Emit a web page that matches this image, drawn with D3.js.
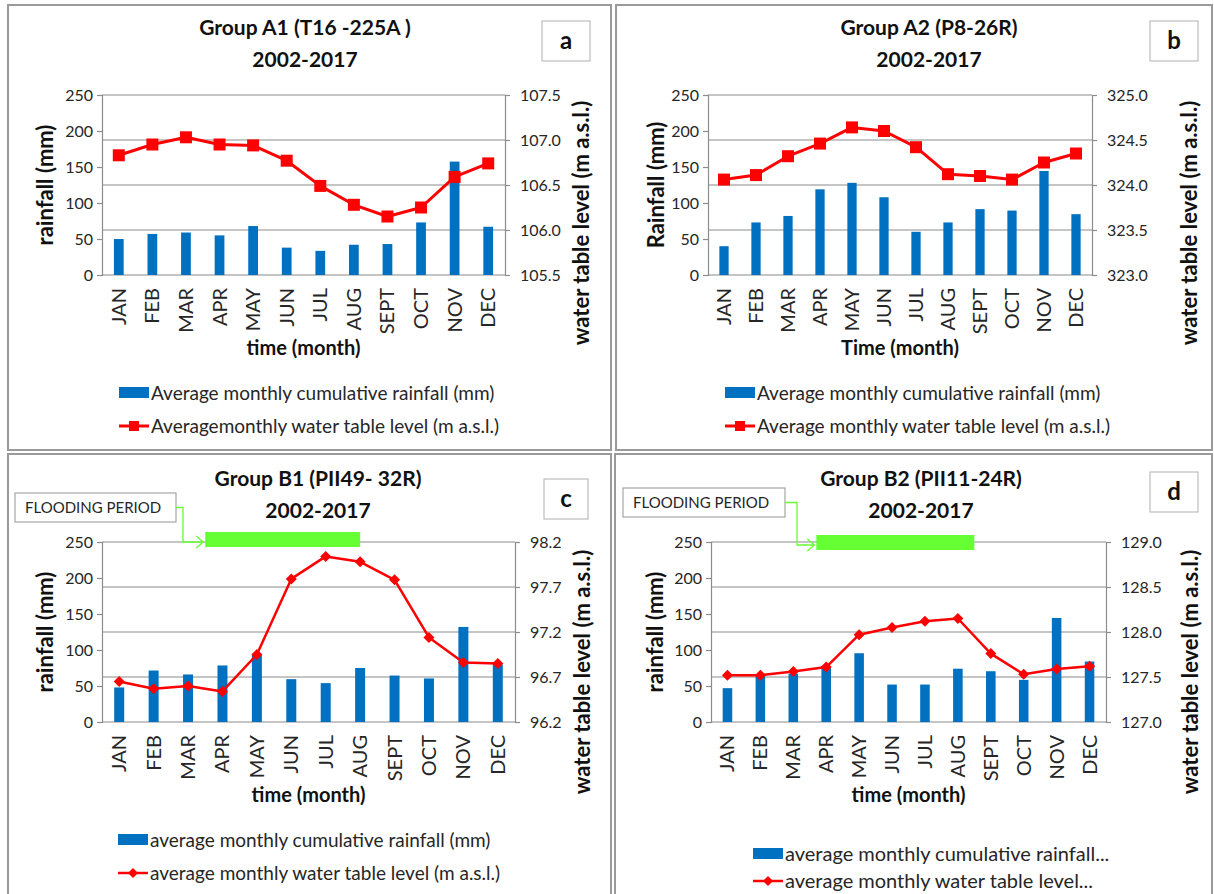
<!DOCTYPE html>
<html>
<head>
<meta charset="utf-8">
<script src="https://cdn.jsdelivr.net/npm/d3@7"></script>
<style>
  body { margin: 0; background: #fff; }
  svg { display: block; font-family: Lato, "Open Sans", sans-serif; }
</style>
</head>
<body>
<svg id="chart" width="1214" height="894"></svg>
<script>
// months on the category axis
var months = ["JAN", "FEB", "MAR", "APR", "MAY", "JUN", "JUL", "AUG", "SEPT", "OCT", "NOV", "DEC"];
var rainTicks = [0, 50, 100, 150, 200, 250];

// Group A1
var rainA = [50, 57, 59, 55, 68, 38, 33.5, 42, 43, 73, 157.5, 67];
var levelA = [106.83, 106.95, 107.03, 106.95, 106.94, 106.77, 106.49, 106.28, 106.15, 106.25, 106.59, 106.74];
var levelTicksA = [105.5, 106.0, 106.5, 107.0, 107.5];

// Group A2
var rainB = [40, 73, 82, 119, 128, 108, 60, 73, 91.5, 89.5, 144.5, 84.5];
var levelB = [324.06, 324.11, 324.32, 324.46, 324.64, 324.60, 324.42, 324.12, 324.10, 324.06, 324.25, 324.35];
var levelTicksB = [323.0, 323.5, 324.0, 324.5, 325.0];

// Group B1
var rainC = [48, 71.5, 66, 78.5, 93, 59.5, 54, 75, 64.5, 60.5, 132, 80];
var levelC = [96.65, 96.57, 96.60, 96.54, 96.95, 97.79, 98.04, 97.98, 97.78, 97.14, 96.86, 96.85];
var levelTicksC = [96.2, 96.7, 97.2, 97.7, 98.2];
var floodC = ["APR", "AUG"];

// Group B2
var rainD = [47, 65, 67, 75, 95.5, 52, 52, 74, 70.5, 58.5, 144.5, 84];
var levelD = [127.52, 127.52, 127.56, 127.61, 127.97, 128.05, 128.12, 128.15, 127.76, 127.53, 127.59, 127.62];
var levelTicksD = [127.0, 127.5, 128.0, 128.5, 129.0];
var floodD = ["APR", "AUG"];

var svg = d3.select("#chart");
var grey = "#8c8c8c", ink = "#262626", blue = "#0070c0", red = "#ff0000", green = "#66ff33";

var panels = [
  { letter: "a", box: [8, 5, 603, 445], plot: [102, 95, 505, 275],
    rain: rainA, level: levelA, ticks: levelTicksA,
    title: ["Group A1 (T16 -225A )", "2002-2017"], titleX: 305, titleY: 28,
    letterBox: [542, 21, 48, 40], yTitle: "rainfall (mm)", yTitleX: 45,
    xTitle: "time (month)", rTitleX: 581, rTitleY: 223, marker: "square",
    legend: [119, 393], legendText: ["Average monthly cumulative rainfall (mm)", "Averagemonthly water table level (m a.s.l.)"] },
  { letter: "b", box: [616, 5, 596, 445], plot: [708, 95, 1092, 275],
    rain: rainB, level: levelB, ticks: levelTicksB,
    title: ["Group A2 (P8-26R)", "2002-2017"], titleX: 929, titleY: 28,
    letterBox: [1150, 21, 48, 40], yTitle: "Rainfall (mm)", yTitleX: 656,
    xTitle: "Time (month)", rTitleX: 1189, rTitleY: 223, marker: "square",
    legend: [725, 393], legendText: ["Average monthly cumulative rainfall (mm)", "Average monthly water table level (m a.s.l.)"] },
  { letter: "c", box: [8, 454, 603, 460], plot: [102, 542, 515, 722],
    rain: rainC, level: levelC, ticks: levelTicksC, flood: floodC, floodOff: [0, 0.5], floodY: 532,
    floodBox: [15, 493, 161, 29], floodElbow: 183,
    title: ["Group B1 (PII49- 32R)", "2002-2017"], titleX: 318, titleY: 479,
    letterBox: [544, 479, 44, 40], yTitle: "rainfall (mm)", yTitleX: 45,
    xTitle: "time (month)", rTitleX: 582, rTitleY: 672, marker: "diamond",
    legend: [118, 840], legendText: ["average monthly cumulative rainfall (mm)", "average monthly water table level (m a.s.l.)"] },
  { letter: "d", box: [615, 454, 597, 460], plot: [711, 542, 1106, 722],
    rain: rainD, level: levelD, ticks: levelTicksD, flood: floodD, floodOff: [0.2, 1], floodY: 535,
    floodBox: [623, 488, 162, 29], floodElbow: 797,
    title: ["Group B2 (PII11-24R)", "2002-2017"], titleX: 921, titleY: 479,
    letterBox: [1150, 472, 48, 40], yTitle: "rainfall (mm)", yTitleX: 655,
    xTitle: "time (month)", rTitleX: 1190, rTitleY: 672, marker: "diamond",
    legend: [753, 854], legendGap: 27, legendSize: 20, legendText: ["average monthly cumulative rainfall...", "average monthly water table level..."] }
];

function markerPath(type, r) {
  if (type === "square") return "M" + (-r) + "," + (-r) + "h" + (2 * r) + "v" + (2 * r) + "h" + (-2 * r) + "Z";
  return "M0," + (-r) + "L" + r + ",0L0," + r + "L" + (-r) + ",0Z";
}

panels.forEach(function(p) {
  var g = svg.append("g");
  var x0 = p.plot[0], y0 = p.plot[1], x1 = p.plot[2], y1 = p.plot[3];

  g.append("rect")
    .attr("x", p.box[0]).attr("y", p.box[1])
    .attr("width", p.box[2]).attr("height", p.box[3])
    .attr("fill", "none").attr("stroke", "#9a9a9a").attr("stroke-width", 2);

  // titles
  g.selectAll(".title").data(p.title).enter().append("text")
    .attr("x", p.titleX).attr("y", function(d, i) { return p.titleY + i * 32; })
    .attr("text-anchor", "middle").attr("dy", "0.35em")
    .attr("font-weight", 700).attr("font-size", "21px").attr("fill", "#111")
    .text(function(d) { return d; });

  g.append("rect")
    .attr("x", p.letterBox[0]).attr("y", p.letterBox[1])
    .attr("width", p.letterBox[2]).attr("height", p.letterBox[3])
    .attr("fill", "#fff").attr("stroke", "#bdbdbd").attr("stroke-width", 1.2);
  g.append("text")
    .attr("x", p.letterBox[0] + p.letterBox[2] / 2).attr("y", p.letterBox[1] + p.letterBox[3] / 2)
    .attr("text-anchor", "middle").attr("dy", "0.35em")
    .attr("font-weight", 700).attr("font-size", "24px").attr("fill", "#111")
    .text(p.letter);

  var x = d3.scaleBand().domain(months).range([x0, x1]);
  var y = d3.scaleLinear().domain([0, 250]).range([y1, y0]);
  var y2 = d3.scaleLinear().domain([p.ticks[0], p.ticks[p.ticks.length - 1]]).range([y1, y0]);
  var bw = x.bandwidth();

  // gridlines follow the secondary axis
  g.selectAll(".grid").data(p.ticks).enter().append("line")
    .attr("x1", x0).attr("x2", x1)
    .attr("y1", function(d) { return y2(d); }).attr("y2", function(d) { return y2(d); })
    .attr("stroke", grey).attr("stroke-width", 1.2);

  var left = g.append("g").attr("transform", "translate(" + x0 + ",0)")
    .call(d3.axisLeft(y).tickValues(rainTicks).tickSize(5).tickPadding(4));
  var right = g.append("g").attr("transform", "translate(" + x1 + ",0)")
    .call(d3.axisRight(y2).tickValues(p.ticks).tickSize(5).tickPadding(10).tickFormat(d3.format(".1f")));
  [left, right].forEach(function(a) {
    a.select(".domain").attr("stroke", grey).attr("stroke-width", 1.2);
    a.selectAll(".tick line").attr("stroke", grey).attr("stroke-width", 1.2);
    a.selectAll(".tick text").attr("font-size", "16px").attr("fill", ink).attr("font-family", "Lato, sans-serif");
  });

  // month labels
  g.selectAll(".mlab").data(months).enter().append("text")
    .attr("transform", function(d) { return "translate(" + (x(d) + bw / 2) + "," + (y1 + 13) + ") rotate(-90)"; })
    .attr("text-anchor", "end").attr("dy", "0.35em")
    .attr("font-size", "20px").attr("fill", ink)
    .text(function(d) { return d; });

  // bars
  var barW = bw * 0.29;
  g.selectAll(".bar").data(p.rain).enter().append("rect")
    .attr("x", function(d, i) { return x(months[i]) + (bw - barW) / 2; })
    .attr("y", function(d) { return y(d); })
    .attr("width", barW)
    .attr("height", function(d) { return y1 - y(d); })
    .attr("fill", blue);

  // water table line
  var lw = p.marker === "square" ? 3 : 2.5;
  var line = d3.line()
    .x(function(d, i) { return x(months[i]) + bw / 2; })
    .y(function(d) { return y2(d); });
  g.append("path").datum(p.level)
    .attr("d", line).attr("fill", "none")
    .attr("stroke", red).attr("stroke-width", lw).attr("stroke-linejoin", "round");
  g.selectAll(".mk").data(p.level).enter().append("path")
    .attr("transform", function(d, i) { return "translate(" + (x(months[i]) + bw / 2) + "," + y2(d) + ")"; })
    .attr("d", markerPath(p.marker, p.marker === "square" ? 6 : 5.5))
    .attr("fill", red);

  // axis titles
  g.append("text")
    .attr("transform", "translate(" + p.yTitleX + "," + (y0 + y1) / 2 + ") rotate(-90)")
    .attr("text-anchor", "middle").attr("dy", "0.35em")
    .attr("font-weight", 700).attr("font-size", "22px").attr("fill", "#111")
    .text(p.yTitle);
  g.append("text")
    .attr("transform", "translate(" + p.rTitleX + "," + p.rTitleY + ") rotate(-90)")
    .attr("text-anchor", "middle").attr("dy", "0.35em")
    .attr("font-weight", 700).attr("font-size", "22px").attr("fill", "#111")
    .text("water table level (m a.s.l.)");
  g.append("text")
    .attr("x", (x0 + x1) / 2).attr("y", y1 + 73)
    .attr("text-anchor", "middle").attr("dy", "0.35em")
    .attr("font-weight", 700).attr("font-size", "20px").attr("fill", "#111")
    .text(p.xTitle);

  // flooding period annotation
  if (p.flood) {
    var fx0 = x(p.flood[0]) + bw * p.floodOff[0];
    var fx1 = x(p.flood[1]) + bw * p.floodOff[1];
    var fb = p.floodBox;
    g.append("rect")
      .attr("x", fx0).attr("y", p.floodY).attr("width", fx1 - fx0).attr("height", 15)
      .attr("fill", green);
    g.append("rect")
      .attr("x", fb[0]).attr("y", fb[1]).attr("width", fb[2]).attr("height", fb[3])
      .attr("fill", "#fff").attr("stroke", "#a6a6a6").attr("stroke-width", 1.2);
    g.append("text")
      .attr("x", fb[0] + 10).attr("y", fb[1] + fb[3] / 2).attr("dy", "0.35em")
      .attr("font-size", "15px").attr("fill", ink)
      .text("FLOODING PERIOD");
    var my = fb[1] + fb[3] / 2, ay = p.floodY + 10;
    g.append("path")
      .attr("d", "M" + (fb[0] + fb[2]) + "," + my + "H" + p.floodElbow + "V" + ay + "H" + (fx0 - 2))
      .attr("fill", "none").attr("stroke", green).attr("stroke-width", 1.3);
    g.append("path")
      .attr("d", "M" + (fx0 - 9) + "," + (ay - 6) + "L" + (fx0 - 2) + "," + ay + "L" + (fx0 - 9) + "," + (ay + 6))
      .attr("fill", "none").attr("stroke", green).attr("stroke-width", 1.3);
  }

  // legend
  var lx = p.legend[0], ly = p.legend[1], gap = p.legendGap || 33;
  g.append("rect").attr("x", lx).attr("y", ly - 6).attr("width", 30).attr("height", 11).attr("fill", blue);
  g.append("line").attr("x1", lx).attr("x2", lx + 30).attr("y1", ly + gap).attr("y2", ly + gap)
    .attr("stroke", red).attr("stroke-width", lw);
  g.append("path").attr("transform", "translate(" + (lx + 15) + "," + (ly + gap) + ")")
    .attr("d", markerPath(p.marker, 5)).attr("fill", red);
  g.selectAll(".lt").data(p.legendText).enter().append("text")
    .attr("x", lx + 32).attr("y", function(d, i) { return ly + i * gap; }).attr("dy", "0.35em")
    .attr("font-size", (p.legendSize || 19) + "px").attr("fill", ink)
    .text(function(d) { return d; });
});
</script>
</body>
</html>
